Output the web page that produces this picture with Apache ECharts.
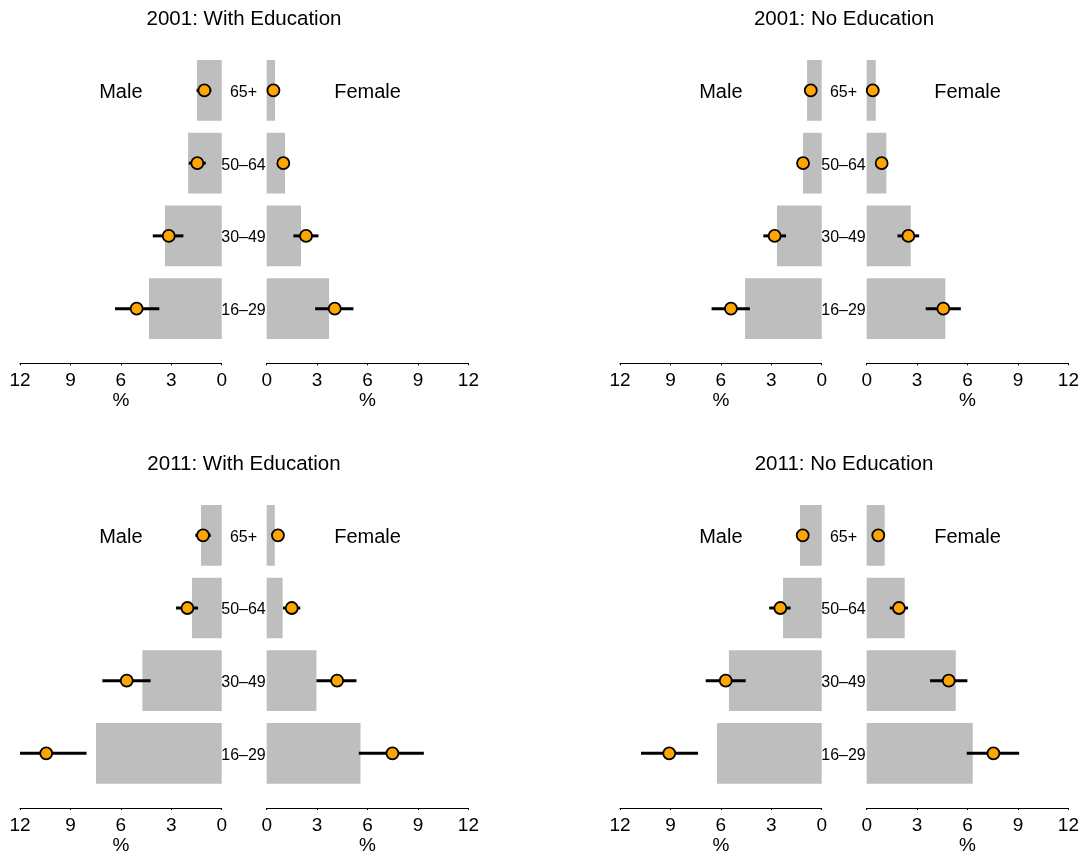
<!DOCTYPE html>
<html>
<head>
<meta charset="utf-8">
<script src="https://cdn.jsdelivr.net/npm/echarts@6/dist/echarts.min.js"></script>
<style>
  html, body { margin: 0; padding: 0; background: #fff; }
  #chart { width: 1084px; height: 856px; }
</style>
</head>
<body>
<div id="chart"></div>
<script>
// Age groups, bottom to top
const ageGroups = ['16–29', '30–49', '50–64', '65+'];
const xTicks = [0, 3, 6, 9, 12];

// 2001: With Education
const edu2001MaleBar = [4.33, 3.37, 2.00, 1.47];
const edu2001MaleEst = [5.06, 3.15, 1.45, 1.03];
const edu2001MaleLo  = [3.71, 2.28, 0.95, 0.62];
const edu2001MaleHi  = [6.35, 4.10, 1.96, 1.50];
const edu2001FemaleBar = [3.71, 2.04, 1.09, 0.50];
const edu2001FemaleEst = [4.05, 2.34, 0.99, 0.40];
const edu2001FemaleLo  = [2.88, 1.59, 0.80, 0.25];
const edu2001FemaleHi  = [5.16, 3.08, 1.20, 0.55];

// 2001: No Education
const noEdu2001MaleBar = [4.56, 2.66, 1.11, 0.87];
const noEdu2001MaleEst = [5.40, 2.80, 1.11, 0.65];
const noEdu2001MaleLo  = [4.27, 2.12, 0.90, 0.50];
const noEdu2001MaleHi  = [6.55, 3.47, 1.30, 0.80];
const noEdu2001FemaleBar = [4.68, 2.62, 1.17, 0.54];
const noEdu2001FemaleEst = [4.56, 2.48, 0.89, 0.36];
const noEdu2001FemaleLo  = [3.51, 1.83, 0.70, 0.25];
const noEdu2001FemaleHi  = [5.60, 3.12, 1.08, 0.48];

// 2011: With Education
const edu2011MaleBar = [7.48, 4.72, 1.77, 1.23];
const edu2011MaleEst = [10.44, 5.65, 2.04, 1.11];
const edu2011MaleLo  = [8.04, 4.23, 1.41, 0.65];
const edu2011MaleHi  = [12.00, 7.10, 2.72, 1.57];
const edu2011FemaleBar = [5.58, 2.96, 0.95, 0.48];
const edu2011FemaleEst = [7.48, 4.19, 1.49, 0.67];
const edu2011FemaleLo  = [5.48, 2.96, 0.97, 0.50];
const edu2011FemaleHi  = [9.35, 5.34, 2.00, 0.85];

// 2011: No Education
const noEdu2011MaleBar = [6.23, 5.52, 2.30, 1.29];
const noEdu2011MaleEst = [9.07, 5.71, 2.46, 1.13];
const noEdu2011MaleLo  = [7.36, 4.52, 1.85, 0.95];
const noEdu2011MaleHi  = [10.75, 6.90, 3.12, 1.30];
const noEdu2011FemaleBar = [6.31, 5.30, 2.26, 1.07];
const noEdu2011FemaleEst = [7.54, 4.88, 1.92, 0.69];
const noEdu2011FemaleLo  = [5.95, 3.77, 1.37, 0.50];
const noEdu2011FemaleHi  = [9.07, 5.99, 2.46, 0.88];

const panels = [
  { title: '2001: With Education', left: 20, top: 54,
    male: [edu2001MaleBar, edu2001MaleEst, edu2001MaleLo, edu2001MaleHi],
    female: [edu2001FemaleBar, edu2001FemaleEst, edu2001FemaleLo, edu2001FemaleHi] },
  { title: '2001: No Education', left: 620, top: 54,
    male: [noEdu2001MaleBar, noEdu2001MaleEst, noEdu2001MaleLo, noEdu2001MaleHi],
    female: [noEdu2001FemaleBar, noEdu2001FemaleEst, noEdu2001FemaleLo, noEdu2001FemaleHi] },
  { title: '2011: With Education', left: 20, top: 499,
    male: [edu2011MaleBar, edu2011MaleEst, edu2011MaleLo, edu2011MaleHi],
    female: [edu2011FemaleBar, edu2011FemaleEst, edu2011FemaleLo, edu2011FemaleHi] },
  { title: '2011: No Education', left: 620, top: 499,
    male: [noEdu2011MaleBar, noEdu2011MaleEst, noEdu2011MaleLo, noEdu2011MaleHi],
    female: [noEdu2011FemaleBar, noEdu2011FemaleEst, noEdu2011FemaleLo, noEdu2011FemaleHi] }
];

const FONT = '"Liberation Sans", Arial, Helvetica, sans-serif';
const HALF_W = 201.7;
const GAP = 246.7;
const PLOT_H = 291;

const grids = [], xAxes = [], yAxes = [], series = [], graphics = [];

// Horizontal interval line from lower to upper bound at a category row
function errorBarItem(params, api) {
  const a = api.coord([api.value(0), api.value(2)]);
  const b = api.coord([api.value(1), api.value(2)]);
  return {
    type: 'line',
    shape: { x1: a[0], y1: a[1], x2: b[0], y2: b[1] },
    style: { stroke: '#000', lineWidth: 3, lineCap: 'butt' }
  };
}

panels.forEach(function (p) {
  [['male', false], ['female', true]].forEach(function (side) {
    const idx = grids.length;
    const vals = p[side[0]];
    const isFemale = side[1];
    grids.push({ left: p.left + (isFemale ? GAP : 0), top: p.top, width: HALF_W, height: PLOT_H });
    xAxes.push({
      type: 'value', gridIndex: idx, min: 0, max: 12, interval: 3,
      inverse: !isFemale, offset: 18.3,
      name: '%', nameLocation: 'middle', nameGap: 28,
      nameTextStyle: { fontFamily: FONT, fontSize: 19, color: '#000' },
      axisLine: { show: true, onZero: false, lineStyle: { color: '#000', width: 1 } },
      axisTick: { show: true, length: 2, lineStyle: { color: '#000' } },
      axisLabel: { fontFamily: FONT, fontSize: 19, color: '#000', margin: 8,
        formatter: function (v) { return xTicks.indexOf(v) >= 0 ? String(v) : ''; } },
      splitLine: { show: false }
    });
    yAxes.push({
      type: 'category', gridIndex: idx, data: ageGroups,
      axisLine: { show: false }, axisTick: { show: false }, splitLine: { show: false },
      axisLabel: isFemale
        ? { show: true, align: 'center', margin: 23.2,
            formatter: function (v) { return '{g|' + v + '}'; },
            rich: { g: { fontFamily: FONT, fontSize: 16, color: '#000', padding: [4, 0, 0, 0] } } }
        : { show: false }
    });
    series.push({
      type: 'bar', xAxisIndex: idx, yAxisIndex: idx, data: vals[0],
      barCategoryGap: '16.5%', itemStyle: { color: '#BEBEBE' }, silent: true, z: 1
    });
    series.push({
      type: 'custom', xAxisIndex: idx, yAxisIndex: idx, renderItem: errorBarItem,
      encode: { x: [0, 1], y: 2 },
      data: ageGroups.map(function (g, i) { return [vals[2][i], vals[3][i], i]; }),
      silent: true, z: 2
    });
    series.push({
      type: 'scatter', xAxisIndex: idx, yAxisIndex: idx,
      data: ageGroups.map(function (g, i) { return [vals[1][i], i]; }),
      symbol: 'circle', symbolSize: 12,
      itemStyle: { color: '#FFA500', borderColor: '#000', borderWidth: 1.8, opacity: 1 },
      silent: true, z: 3
    });
  });

  graphics.push({
    type: 'text', x: p.left + 224, y: p.top - 35,
    style: { text: p.title, fontFamily: FONT, fontSize: 20.5, fill: '#000',
      textAlign: 'center', textVerticalAlign: 'middle' }
  });
  graphics.push({
    type: 'text', x: p.left + HALF_W / 2, y: p.top + 38,
    style: { text: 'Male', fontFamily: FONT, fontSize: 20, fill: '#000',
      textAlign: 'center', textVerticalAlign: 'middle' }
  });
  graphics.push({
    type: 'text', x: p.left + GAP + HALF_W / 2, y: p.top + 38,
    style: { text: 'Female', fontFamily: FONT, fontSize: 20, fill: '#000',
      textAlign: 'center', textVerticalAlign: 'middle' }
  });
});

const chart = echarts.init(document.getElementById('chart'), null, { renderer: 'canvas' });
chart.setOption({
  animation: false,
  backgroundColor: '#fff',
  grid: grids,
  xAxis: xAxes,
  yAxis: yAxes,
  series: series,
  graphic: graphics
});
</script>
</body>
</html>
